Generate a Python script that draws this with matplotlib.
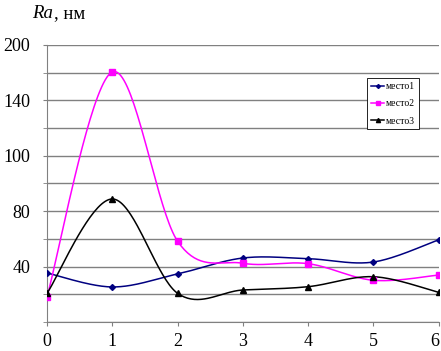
import matplotlib.pyplot as plt
import numpy as np

x = [0, 1, 2, 3, 4, 5, 6]
mesto1 = [35.4, 25.3, 34.7, 46.2, 45.7, 43.3, 59.4]
mesto2 = [18.3, 180.5, 58.3, 42.4, 42.1, 30.1, 33.9]
mesto3 = [20.7, 88.8, 20.7, 23.1, 25.5, 32.7, 21.4]
series_names = ['место1', 'место2', 'место3']
ytick_pos = [40, 80, 120, 160, 200]
ytick_lab = ['40', '80', '100', '140', '200']


def smooth(xs, ys, n=40):
    # Excel-style smoothed line (Catmull-Rom through the points)
    xs = np.asarray(xs, float)
    ys = np.asarray(ys, float)
    px = np.concatenate([[xs[0]], xs, [xs[-1]]])
    py = np.concatenate([[ys[0]], ys, [ys[-1]]])
    out_x, out_y = [], []
    t = np.linspace(0, 1, n)
    for i in range(1, len(px) - 2):
        p0, p1, p2, p3 = [np.array([px[j], py[j]]) for j in (i - 1, i, i + 1, i + 2)]
        c1 = p1 + (p2 - p0) / 6
        c2 = p2 - (p3 - p1) / 6
        b = ((1 - t) ** 3)[:, None] * p1 + (3 * (1 - t) ** 2 * t)[:, None] * c1 \
            + (3 * (1 - t) * t ** 2)[:, None] * c2 + (t ** 3)[:, None] * p2
        out_x.extend(b[:, 0])
        out_y.extend(b[:, 1])
    return out_x, out_y


plt.rcParams['font.family'] = 'Liberation Serif'
fig = plt.figure(figsize=(4.41, 3.51), dpi=100)
ax = fig.add_axes([0.1066, 0.0826, 0.8884, 0.7894])

styles = [('#000080', 'D', 3), ('#FF00FF', 's', 4), ('black', '^', 4)]
for ys, name, (c, m, ms) in zip([mesto1, mesto2, mesto3], series_names, styles):
    sx, sy = smooth(x, ys)
    ax.plot(sx, sy, color=c, lw=1.1, zorder=3)
    ax.plot(x, ys, linestyle='none', marker=m, color=c, ms=ms, zorder=4)
    ax.plot([], [], color=c, marker=m, ms=ms - 1, lw=1.1, label=name)

ax.set_xlim(0, 6)
ax.set_ylim(0, 200)
ax.set_xticks(x)
ax.set_yticks(ytick_pos)
ax.set_yticklabels(ytick_lab)
ax.set_yticks(np.arange(0, 201, 20), minor=True)
ax.grid(axis='y', which='both', color='#808080', lw=1.0)
ax.set_axisbelow(True)
for s in ['top', 'right']:
    ax.spines[s].set_visible(False)
for s in ['left', 'bottom']:
    ax.spines[s].set_color('#808080')
ax.tick_params(axis='both', which='both', labelsize=13, color='#808080', length=3)
ax.tick_params(axis='x', pad=5)
ax.tick_params(axis='y', pad=9)
ax.get_xticklabels()[-1].set_horizontalalignment('right')

fig.text(0.072, 0.962, 'Ra', fontsize=13.5, style='italic', ha='left', va='center')
fig.text(0.122, 0.962, ', нм', fontsize=13.5, ha='left', va='center')

leg = ax.legend(loc='upper left', bbox_to_anchor=(0.818, 0.88), fontsize=7,
                frameon=True, fancybox=False, edgecolor='black', framealpha=1,
                handlelength=1.3, borderpad=0.4, labelspacing=0.85, handletextpad=0.2,
                borderaxespad=0)
leg.get_frame().set_linewidth(0.6)

fig.savefig('out.png', dpi=100)
